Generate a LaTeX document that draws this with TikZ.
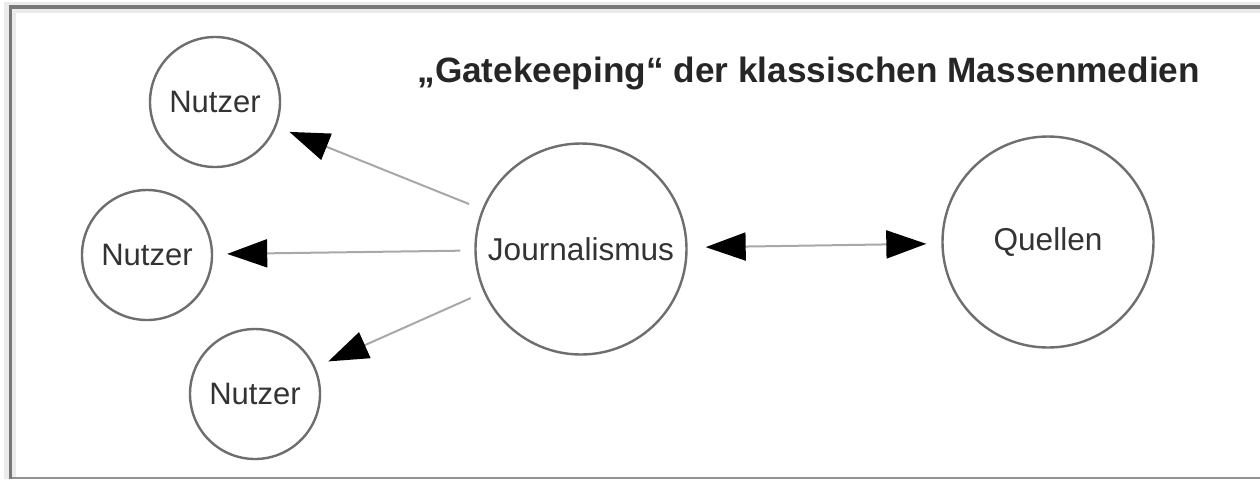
\documentclass[tikz,border=0pt]{standalone}
\usepackage{fontspec}
\setmainfont{Liberation Sans}
\usetikzlibrary{arrows.meta}
\definecolor{framegray}{HTML}{777777}
\definecolor{lightband}{HTML}{EBEBEB}
\definecolor{circlegray}{HTML}{6E6E6E}
\definecolor{linegray}{HTML}{A8A8A8}
\definecolor{textgray}{HTML}{333333}
\tikzset{
  usernode/.style={circle,draw=circlegray,line width=1.2pt,minimum size=65pt,inner sep=0pt,
    font=\fontsize{15.5}{18}\selectfont,text=textgray},
  bignode/.style={circle,draw=circlegray,line width=1.2pt,minimum size=105.5pt,inner sep=0pt,
    font=\fontsize{15.8}{18}\selectfont,text=textgray},
  flow/.style={draw=linegray,line width=1pt,-{Triangle[length=20pt,width=14pt,fill=black,color=black]},
    shorten >=7pt,shorten <=7pt},
  bothflow/.style={draw=linegray,line width=1pt,
    {Triangle[length=20pt,width=14pt,fill=black,color=black]}-{Triangle[length=20pt,width=14pt,fill=black,color=black]},
    shorten >=7.5pt,shorten <=9pt},
  titletext/.style={font=\bfseries\fontsize{17.6}{20}\selectfont,text=black!85,anchor=base west,inner sep=0pt}
}
\begin{document}
\begin{tikzpicture}[x=0.5pt,y=-0.5pt]
  \useasboundingbox (0,0) rectangle (1260,479);
  \fill[white] (0,0) rectangle (1260,479);
  % frame bands
  \fill[lightband] (4,2) rectangle (1260,13);
  \fill[lightband] (4,2) rectangle (16,479);
  \fill[white] (16,13) rectangle (1260,476);
  \fill[framegray] (9,5) rectangle (1260,9);
  \fill[framegray!80] (9,477) rectangle (1260,479);
  \fill[framegray] (9,5) rectangle (12,479);
  % title
  \node[titletext] (title) at (417,82) {„Gatekeeping“ der klassischen Massenmedien};
  % nodes
  \node[usernode] (n1) at (215,102) {Nutzer};
  \node[usernode] (n2) at (147,255) {Nutzer};
  \node[usernode] (n3) at (255,394) {Nutzer};
  \node[bignode] (j) at (581,249) {Journalismus};
  \node[bignode] (q) at (1048,242) {Quellen};
  % connectors
  \draw[flow] (j) -- (n1);
  \draw[flow] (j) -- (n2);
  \draw[flow] (j) -- (n3);
  \draw[bothflow] (j) -- (q);
\end{tikzpicture}
\end{document}
